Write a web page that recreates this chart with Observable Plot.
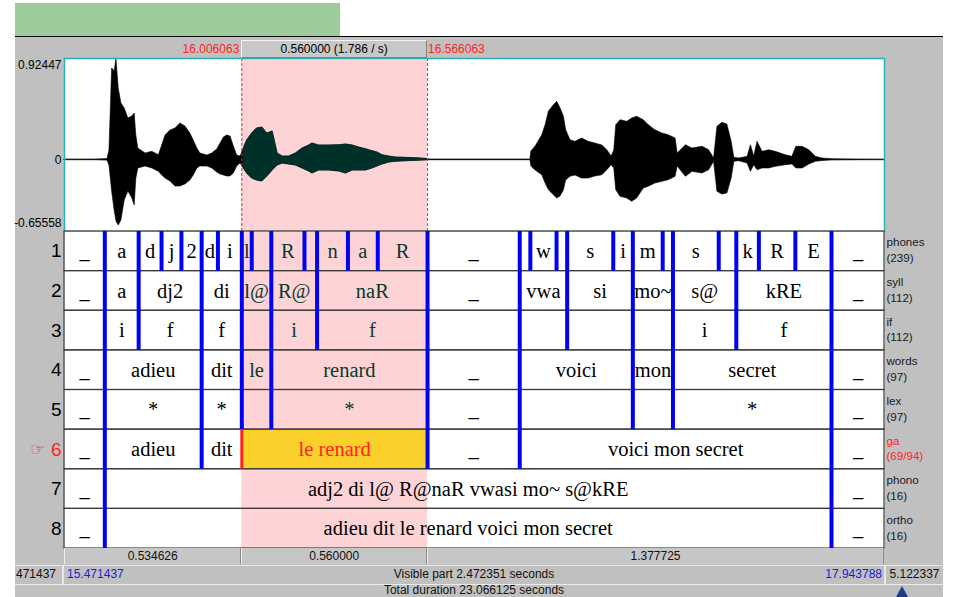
<!DOCTYPE html>
<html><head><meta charset="utf-8">
<script src="https://cdn.jsdelivr.net/npm/d3@7"></script>
<script src="https://cdn.jsdelivr.net/npm/@observablehq/plot@0.6"></script>
<style>
body{margin:0;background:#fff;}
#root{position:relative;width:953px;height:597px;overflow:hidden;font-family:"Liberation Sans",Arial,sans-serif;font-size:12px;color:#000;}
.abs{position:absolute;box-sizing:border-box;white-space:nowrap;}
</style></head><body><div id="root"></div>
<script>
// ---------- data ----------
const viewStart = 15.471437, viewEnd = 17.943788, totalDuration = 23.066125;
const selStart = 16.006063, selEnd = 16.566063;
const ampMax = 0.92447, ampMin = -0.65558;
const ampTicks = [0.92447, 0, -0.65558];

const waveTime = [15.471,15.565,15.601,15.607,15.615,15.623,15.628,15.635,15.643,15.653,
15.664,15.676,15.683,15.688,15.694,15.716,15.736,15.756,15.766,15.776,
15.791,15.806,15.821,15.836,15.851,15.861,15.872,15.881,15.902,15.917,
15.932,15.942,15.952,15.962,15.972,15.982,15.992,16.002,16.012,16.022,
16.037,16.052,16.068,16.083,16.099,16.114,16.129,16.149,16.169,16.189,
16.209,16.219,16.239,16.270,16.300,16.320,16.340,16.360,16.380,16.400,
16.415,16.430,16.450,16.470,16.500,16.531,16.561,16.575,16.876,16.879,
16.892,16.912,16.922,16.932,16.947,16.957,16.967,16.977,16.984,16.997,
17.012,17.032,17.052,17.072,17.093,17.108,17.121,17.129,17.135,17.148,
17.168,17.183,17.198,17.218,17.233,17.253,17.274,17.293,17.314,17.320,
17.345,17.365,17.395,17.415,17.430,17.440,17.455,17.470,17.483,17.491,
17.506,17.531,17.541,17.551,17.561,17.576,17.596,17.616,17.646,17.666,
17.678,17.697,17.717,17.737,17.757,17.787,17.944];
const waveTop = [0,.002,.006,.084,.833,.808,.924,.650,.513,.468,
.376,.395,.422,.221,.102,.057,.072,.041,.130,.221,
.267,.285,.331,.303,.239,.175,.102,.057,.038,.057,
.093,.148,.203,.221,.212,.121,.038,.029,.102,.175,
.239,.285,.294,.239,.258,.057,.029,.029,.057,.102,
.130,.148,.130,.130,.132,.139,.130,.111,.096,.078,
.066,.041,.029,.020,.017,.014,.008,.002,.002,.075,
.121,.224,.315,.440,.498,.529,.468,.395,.269,.178,
.163,.194,.163,.148,.130,.087,.029,.084,.315,.361,
.346,.376,.392,.361,.315,.269,.239,.224,.194,.057,
.132,.102,.118,.087,.011,.300,.337,.321,.163,.017,
.011,.026,.132,.029,.163,.072,.087,.072,.041,.026,
.118,.118,.087,.026,.011,.005,0];
const waveBottom = [0,-.002,-.007,-.053,-.290,-.473,-.564,-.601,-.555,-.373,
-.290,-.354,-.418,-.172,-.080,-.062,-.080,-.111,-.144,-.172,
-.199,-.245,-.245,-.226,-.190,-.144,-.080,-.062,-.062,-.080,
-.117,-.135,-.144,-.153,-.153,-.126,-.062,-.035,-.080,-.126,
-.172,-.190,-.199,-.153,-.099,-.053,-.035,-.044,-.053,-.080,
-.108,-.126,-.099,-.099,-.108,-.126,-.099,-.099,-.099,-.080,
-.062,-.044,-.026,-.019,-.014,-.010,-.005,-.002,-.002,-.062,
-.099,-.142,-.217,-.279,-.324,-.354,-.336,-.281,-.190,-.156,
-.144,-.172,-.172,-.153,-.142,-.096,-.050,-.080,-.279,-.339,
-.354,-.384,-.354,-.263,-.247,-.217,-.202,-.187,-.156,-.062,
-.156,-.111,-.126,-.096,-.019,-.293,-.318,-.309,-.172,-.019,
-.014,-.035,-.111,-.050,-.096,-.080,-.080,-.065,-.050,-.044,
-.080,-.080,-.044,-.019,-.012,-.005,0];

const tierNumbers = ["1","2","3","4","5","6","7","8"];
const tierNames = ["phones","syll","if","words","lex","ga","phono","ortho"];
const tierCounts = ["(239)","(112)","(112)","(97)","(97)","(69/94)","(16)","(16)"];
const selectedTier = "6";

const phonesBounds = [15.593,15.695,15.764,15.824,15.885,15.934,16.006063,16.036,16.095,16.195,16.233,16.326,16.416,16.566063,16.844,16.876,16.955,16.987,17.126,17.185,17.275,17.306,17.444,17.497,17.565,17.675,17.784];
const phonesLabels = ["_","a","d","j","2","d","i","l","","R","","n","a","R","_","","w","","s","i","m","","s","","k","R","E","_"];
const syllBounds = [15.593,15.695,15.885,16.006063,16.095,16.233,16.566063,16.844,16.987,17.185,17.306,17.497,17.784];
const syllLabels = ["_","a","dj2","di","l@","R@","naR","_","vwa","si","mo~","s@","kRE","_"];
const ifBounds = [15.593,15.695,15.885,16.006063,16.095,16.233,16.566063,16.844,16.987,17.185,17.306,17.497,17.784];
const ifLabels = ["","i","f","f","","i","f","","","","","i","f",""];
const wordsBounds = [15.593,15.885,16.006063,16.095,16.566063,16.844,17.185,17.306,17.784];
const wordsLabels = ["_","adieu","dit","le","renard","_","voici","mon","secret","_"];
const lexBounds = [15.593,15.885,16.006063,16.095,16.566063,16.844,17.185,17.306,17.784];
const lexLabels = ["_","*","*","","*","_","","","*","_"];
const gaBounds = [15.593,15.885,16.006063,16.566063,16.844,17.784];
const gaLabels = ["_","adieu","dit","le renard","_","voici mon secret","_"];
const phonoBounds = [15.593,17.784];
const phonoLabels = ["_","adj2 di l@ R@naR vwasi mo~ s@kRE","_"];
const orthoBounds = [15.593,17.784];
const orthoLabels = ["_","adieu dit le renard voici mon secret","_"];

// ---------- build ----------
const PINK = "#fdd3d5", YELLOW = "#fcd02a", TEAL = "#063a31", RED = "#ff1f1f", BLUE = "#0000f2";
const wave = waveTime.map((t, i) => ({t, hi: waveTop[i], lo: waveBottom[i]}));
const tierBounds = [phonesBounds, syllBounds, ifBounds, wordsBounds, lexBounds, gaBounds, phonoBounds, orthoBounds];
const tierLabels = [phonesLabels, syllLabels, ifLabels, wordsLabels, lexLabels, gaLabels, phonoLabels, orthoLabels];
const intervals = [], boundaries = [];
tierNumbers.forEach((num, k) => {
  const edges = [viewStart, ...tierBounds[k], viewEnd];
  tierLabels[k].forEach((label, i) => {
    const a = edges[i], b = edges[i + 1];
    const isSel = num === selectedTier && a === selStart;
    const inside = a >= selStart && b <= selEnd;
    intervals.push({tier: num, start: a, end: b, mid: (a + b) / 2, label,
      color: isSel ? RED : inside ? TEAL : "#000", isSel});
  });
  tierBounds[k].forEach(t => boundaries.push({tier: num, t, sel: num === selectedTier && t === selStart}));
});
const sel = [{s: selStart, e: selEnd}];
const font = "Liberation Sans, Arial, sans-serif";

const root = document.getElementById("root");
function box(css, text) {
  const d = document.createElement("div");
  d.className = "abs";
  Object.assign(d.style, css);
  if (text !== undefined) d.textContent = text;
  root.appendChild(d);
  return d;
}
box({left: "15px", top: "3px", width: "325px", height: "34px", background: "#9dcc9a"});
box({left: "15px", top: "36px", width: "928px", height: "561px", background: "#c0c0c0", borderTop: "1px solid #000"});

const A = Plot.plot({
  width: 953, height: 194, marginLeft: 64, marginRight: 69, marginTop: 21, marginBottom: 0,
  x: {domain: [viewStart, viewEnd], axis: null},
  y: {domain: [ampMin, ampMax], axis: null},
  style: {background: "transparent", overflow: "visible", fontFamily: font},
  marks: [
    Plot.frame({fill: "#fff"}),
    Plot.rect(sel, {x1: "s", x2: "e", fill: PINK}),
    Plot.ruleY([0], {stroke: "#3a3a3a", strokeWidth: 1}),
    Plot.areaY(wave, {x: "t", y1: "lo", y2: "hi", fill: "#000", stroke: "#000", strokeWidth: 0.6}),
    Plot.areaY(wave.filter(d => d.t >= selStart && d.t <= selEnd), {x: "t", y1: "lo", y2: "hi", fill: "#00302a", stroke: "#00302a", strokeWidth: 0.6}),
    Plot.ruleX([selStart, selEnd], {stroke: "#f02828", strokeWidth: 1, strokeDasharray: "3,2"}),
    Plot.frame({stroke: "#29b2b2", strokeWidth: 1.5}),
    Plot.text([ampTicks[0]], {y: d => d, frameAnchor: "left", dx: -3, dy: 2, textAnchor: "end", lineAnchor: "top", text: d => String(d), fontSize: 12}),
    Plot.text([ampTicks[1]], {y: d => d, frameAnchor: "left", dx: -3, textAnchor: "end", lineAnchor: "middle", text: d => String(d), fontSize: 12}),
    Plot.text([ampTicks[2]], {y: d => d, frameAnchor: "left", dx: -3, dy: -5, textAnchor: "end", lineAnchor: "bottom", text: d => String(d), fontSize: 12})
  ]
});
Object.assign(A.style, {position: "absolute", left: "0px", top: "37px"});
root.appendChild(A);

const B = Plot.plot({
  width: 953, height: 317, marginLeft: 64, marginRight: 69, marginTop: 0, marginBottom: 0,
  x: {domain: [viewStart, viewEnd], axis: null},
  y: {type: "band", domain: tierNumbers, padding: 0, round: false, axis: null},
  color: {type: "identity"},
  style: {background: "transparent", overflow: "visible", fontFamily: font},
  marks: [
    Plot.frame({fill: "#fff"}),
    Plot.rect(sel, {x1: "s", x2: "e", fill: PINK}),
    Plot.barX(intervals.filter(d => d.isSel), {x1: "start", x2: "end", y: "tier", fill: YELLOW}),
    Plot.barX(tierNumbers, {x1: () => viewStart, x2: () => viewEnd, y: d => d, fill: "none", stroke: "#3c3c3c", strokeWidth: 1.2}),
    Plot.tickX(boundaries.filter(d => !d.sel), {x: "t", y: "tier", stroke: BLUE, strokeWidth: 4}),
    Plot.tickX(boundaries.filter(d => d.sel), {x: "t", y: "tier", stroke: RED, strokeWidth: 3}),
    Plot.text(intervals, {x: "mid", y: "tier", text: "label", fill: "color", fontFamily: "Liberation Serif, Times New Roman, serif", fontSize: 20.5}),
    Plot.text(tierNumbers, {y: d => d, frameAnchor: "left", dx: -3, textAnchor: "end", text: d => d, fontSize: 19, fill: d => d === selectedTier ? RED : "#000"}),
    Plot.text([selectedTier], {y: d => d, frameAnchor: "left", dx: -19, textAnchor: "end", text: () => "\u261E", fontSize: 17, fill: RED, fontFamily: "DejaVu Sans"}),
    Plot.text(tierNumbers, {y: d => d, frameAnchor: "right", dx: 2, dy: -2, textAnchor: "start", lineHeight: 1.36,
      text: (d, i) => tierNames[i] + "\n" + tierCounts[i], fontSize: 11.6, fill: d => d === selectedTier ? RED : "#1a1a1a"})
  ]
});
Object.assign(B.style, {position: "absolute", left: "0px", top: "231px"});
root.appendChild(B);

// ---------- chrome positioned through the x scale ----------
const sx = B.scale("x");
const X = sx.apply ? (t => sx.apply(t)) : d3.scaleLinear(sx.domain, sx.range);
const fmt = v => v.toFixed(6);
const xs = X(selStart), xe = X(selEnd), xa = X(viewStart), xb = X(viewEnd);

box({left: (xs - 70) + "px", top: "41px", width: "68px", height: "17px", lineHeight: "17px", textAlign: "right", color: RED}, fmt(selStart));
box({left: xs + "px", top: "40px", width: (xe - xs) + "px", height: "18px", lineHeight: "16px", textAlign: "center",
  background: "#c8c8c8", borderTop: "1px solid #f4f4f4", borderLeft: "1px solid #f4f4f4", borderRight: "1px solid #808080", borderBottom: "1px solid #808080"},
  fmt(selEnd - selStart) + " (" + (1 / (selEnd - selStart)).toFixed(3) + " / s)");
box({left: (xe + 1) + "px", top: "41px", width: "70px", height: "17px", lineHeight: "17px", color: RED}, fmt(selEnd));

const segs = [[viewStart, selStart], [selStart, selEnd], [selEnd, viewEnd]];
segs.forEach(([a, b]) => {
  box({left: X(a) + "px", top: "548px", width: (X(b) - X(a)) + "px", height: "16px", lineHeight: "16px", textAlign: "center",
    background: "#c6c6c6", borderLeft: "1px solid #ededed", borderRight: "1px solid #8a8a8a", color: "#111"}, fmt(b - a));
});
box({left: "15px", top: "565px", width: "928px", height: "1px", background: "#e8e8e8"});
// left cell: the reference shows only the trailing digits of the start time
box({left: "16px", top: "566px", width: "44px", height: "17px", lineHeight: "17px", color: "#111"}, fmt(viewStart).slice(-6));
box({left: "62px", top: "566px", width: "2px", height: "18px", background: "#e8e8e8"});
box({left: (xa + 3) + "px", top: "566px", width: "80px", height: "17px", lineHeight: "17px", color: "#1c1cd8"}, fmt(viewStart));
box({left: xa + "px", top: "566px", width: (xb - xa) + "px", height: "17px", lineHeight: "17px", textAlign: "center", color: "#111"}, "Visible part " + fmt(viewEnd - viewStart) + " seconds");
box({left: (xb - 82) + "px", top: "566px", width: "80px", height: "17px", lineHeight: "17px", textAlign: "right", color: "#1c1cd8"}, fmt(viewEnd));
box({left: xb + "px", top: "566px", width: "2px", height: "18px", background: "#e8e8e8"});
box({left: (xb + 2) + "px", top: "566px", width: (943 - xb - 2) + "px", height: "17px", lineHeight: "17px", textAlign: "center", color: "#111"}, fmt(totalDuration - viewEnd));
box({left: "15px", top: "584px", width: "928px", height: "1px", background: "#ececec"});
box({left: xa + "px", top: "583px", width: (xb - xa) + "px", height: "14px", lineHeight: "14px", textAlign: "center", color: "#111"}, "Total duration " + fmt(totalDuration) + " seconds");
const tri = box({left: "896px", top: "586px", width: "12px", height: "11px"});
tri.innerHTML = '<svg width="12" height="11"><polygon points="6,0 12,11 0,11" fill="#1e3c8c"/></svg>';
</script></body></html>
